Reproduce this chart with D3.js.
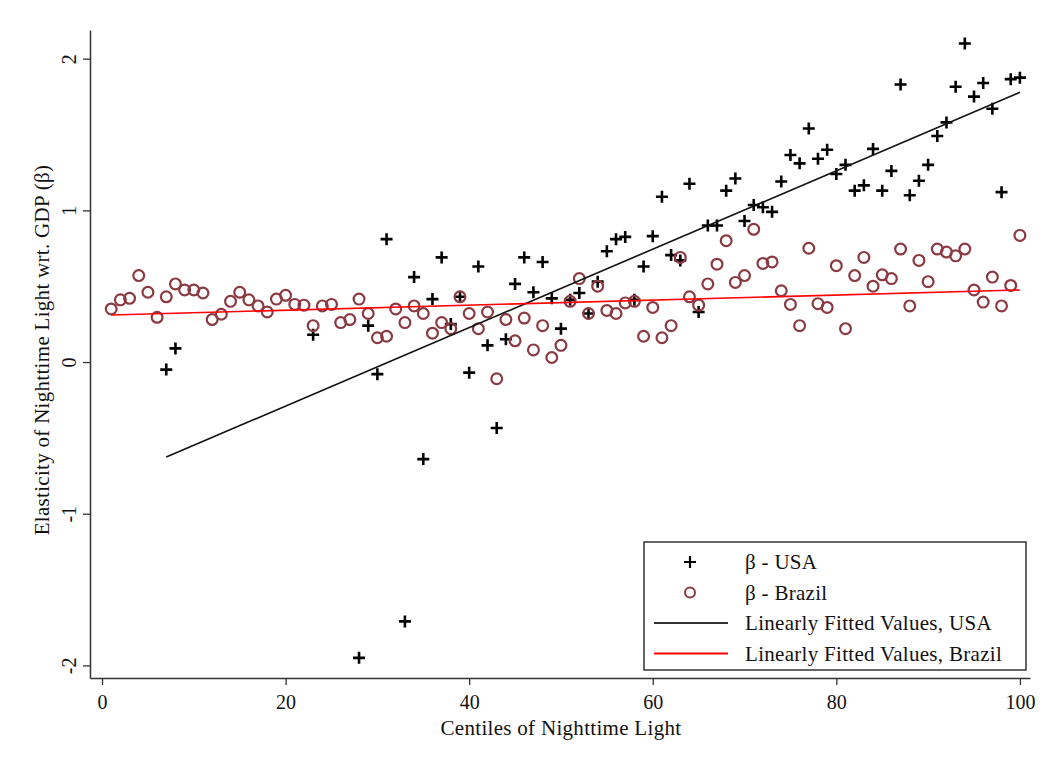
<!DOCTYPE html>
<html lang="en">
  <head>
    <meta charset="utf-8">
    <title>Elasticity of Nighttime Light</title>
    <style>
      body { margin: 0; background: #fff; }
      text { font-family: 'Liberation Serif', 'DejaVu Serif', serif; fill: #111; }
    </style>
  </head>
  <body>
    <svg width="1054" height="769"></svg>
    <script src="https://cdn.jsdelivr.net/npm/d3@7/dist/d3.min.js"></script>
    <script>
      // centiles for each series
      const usa_centiles = [7, 8, 23, 28, 29, 30, 31, 33, 34, 35, 36, 37, 38, 39, 40, 41, 42, 43, 44, 45,
        46, 47, 48, 49, 50, 51, 52, 53, 54, 55, 56, 57, 58, 59, 60, 61, 62, 63, 64, 65,
        66, 67, 68, 69, 70, 71, 72, 73, 74, 75, 76, 77, 78, 79, 80, 81, 82, 83, 84, 85,
        86, 87, 88, 89, 90, 91, 92, 93, 94, 95, 96, 97, 98, 99, 100];
      const usa_beta = [-0.05, 0.09, 0.18, -1.95, 0.24, -0.08, 0.81, -1.71, 0.56, -0.64, 0.415, 0.69, 0.25, 0.43, -0.07, 0.63, 0.11, -0.435, 0.15, 0.515,
        0.69, 0.46, 0.66, 0.42, 0.22, 0.41, 0.455, 0.32, 0.53, 0.73, 0.81, 0.825, 0.41, 0.63, 0.83, 1.09, 0.705, 0.67, 1.175, 0.33,
        0.90, 0.90, 1.13, 1.21, 0.93, 1.035, 1.02, 0.99, 1.19, 1.365, 1.31, 1.54, 1.34, 1.40, 1.24, 1.30, 1.13, 1.165, 1.405, 1.13,
        1.26, 1.83, 1.10, 1.195, 1.30, 1.49, 1.58, 1.815, 2.10, 1.75, 1.84, 1.67, 1.12, 1.865, 1.875];

      const brazil_centiles = d3.range(1, 101);
      const brazil_beta = [0.35, 0.41, 0.42, 0.57, 0.46, 0.295, 0.43, 0.515, 0.475, 0.475,
        0.455, 0.28, 0.315, 0.40, 0.46, 0.41, 0.37, 0.33, 0.415, 0.44,
        0.38, 0.375, 0.24, 0.37, 0.38, 0.26, 0.28, 0.415, 0.32, 0.16,
        0.17, 0.35, 0.26, 0.37, 0.32, 0.19, 0.26, 0.22, 0.43, 0.32,
        0.22, 0.33, -0.11, 0.28, 0.14, 0.29, 0.08, 0.24, 0.03, 0.11,
        0.40, 0.55, 0.32, 0.50, 0.34, 0.32, 0.39, 0.40, 0.17, 0.36,
        0.16, 0.24, 0.69, 0.43, 0.375, 0.515, 0.645, 0.80, 0.525, 0.57,
        0.875, 0.65, 0.66, 0.47, 0.38, 0.24, 0.75, 0.385, 0.36, 0.635,
        0.22, 0.57, 0.69, 0.50, 0.575, 0.55, 0.745, 0.37, 0.67, 0.53,
        0.745, 0.725, 0.70, 0.745, 0.475, 0.395, 0.56, 0.37, 0.505, 0.835];

      // fitted values at the ends of each series' range
      const usa_fit_centiles = [7, 100];
      const usa_fit_values = [-0.626, 1.778];
      const brazil_fit_centiles = [1, 100];
      const brazil_fit_values = [0.31, 0.475];

      const x_ticks = [0, 20, 40, 60, 80, 100];
      const y_ticks = [-2, -1, 0, 1, 2];
      const legend_labels = ['\u03B2 - USA', '\u03B2 - Brazil', 'Linearly Fitted Values, USA', 'Linearly Fitted Values, Brazil'];

      const svg = d3.select('svg');
      const margin = {top: 30, right: 24, bottom: 91, left: 90};
      const svg_width = +svg.attr('width');
      const svg_height = +svg.attr('height');

      const x_scale = d3.scaleLinear()
        .domain([-1.31, 101.1])
        .range([margin.left, svg_width - margin.right]);
      const y_scale = d3.scaleLinear()
        .domain([-2.083, 2.189])
        .range([svg_height - margin.bottom, margin.top]);

      const usa = usa_centiles.map((c, i) => ({x: c, y: usa_beta[i]}));
      const brazil = brazil_centiles.map((c, i) => ({x: c, y: brazil_beta[i]}));
      const usa_fit = usa_fit_centiles.map((c, i) => ({x: c, y: usa_fit_values[i]}));
      const brazil_fit = brazil_fit_centiles.map((c, i) => ({x: c, y: brazil_fit_values[i]}));

      // axes
      const x_axis_g = svg.append('g')
        .attr('transform', `translate(0,${svg_height - margin.bottom})`)
        .call(d3.axisBottom(x_scale).tickValues(x_ticks).tickSize(7).tickPadding(10).tickSizeOuter(0));
      const y_axis_g = svg.append('g')
        .attr('transform', `translate(${margin.left},0)`)
        .call(d3.axisLeft(y_scale).tickValues(y_ticks).tickFormat(d => String(d))
          .tickSize(7).tickPadding(9).tickSizeOuter(0));

      [x_axis_g, y_axis_g].forEach(g => {
        g.select('.domain').attr('stroke', '#333').attr('stroke-width', 1.5);
        g.selectAll('.tick line').attr('stroke', '#333').attr('stroke-width', 1.3);
        g.selectAll('.tick text').attr('font-size', 20)
          .attr('font-family', "'Liberation Serif', serif").attr('fill', '#111');
      });
      y_axis_g.selectAll('.tick text')
        .attr('transform', 'rotate(-90, -14, 0)')
        .attr('text-anchor', 'middle')
        .attr('dy', '0')
        .attr('x', -14);

      svg.append('text')
        .attr('x', (x_scale(0) + x_scale(100)) / 2)
        .attr('y', svg_height - 34)
        .attr('text-anchor', 'middle')
        .attr('font-size', 21)
        .attr('letter-spacing', 0.3)
        .text('Centiles of Nighttime Light');
      svg.append('text')
        .attr('transform', `translate(49, 350) rotate(-90)`)
        .attr('text-anchor', 'middle')
        .attr('font-size', 21)
        .attr('letter-spacing', 0.3)
        .text('Elasticity of Nighttime Light wrt. GDP (\u03B2)');

      const plot_g = svg.append('g');

      // USA markers
      plot_g.append('g').selectAll('path')
        .data(usa).enter()
        .append('path')
        .attr('transform', d => `translate(${x_scale(d.x)},${y_scale(d.y)})`)
        .attr('d', 'M-6,0H6M0,-6V6')
        .attr('stroke', '#000')
        .attr('stroke-width', 2.6);

      // Brazil markers
      plot_g.append('g').selectAll('circle')
        .data(brazil).enter()
        .append('circle')
        .attr('cx', d => x_scale(d.x))
        .attr('cy', d => y_scale(d.y))
        .attr('r', 5.4)
        .attr('fill', 'none')
        .attr('stroke', '#8b3a42')
        .attr('stroke-width', 2.2);

      const line = d3.line().x(d => x_scale(d.x)).y(d => y_scale(d.y));
      plot_g.append('path')
        .datum(usa_fit)
        .attr('d', line)
        .attr('fill', 'none')
        .attr('stroke', '#111')
        .attr('stroke-width', 1.6);
      plot_g.append('path')
        .datum(brazil_fit)
        .attr('d', line)
        .attr('fill', 'none')
        .attr('stroke', '#ff0000')
        .attr('stroke-width', 1.6);

      // legend
      const legend = svg.append('g').attr('transform', 'translate(644,542)');
      legend.append('rect')
        .attr('width', 382).attr('height', 128)
        .attr('fill', '#fff').attr('stroke', '#333').attr('stroke-width', 1.5);
      const rows = legend.selectAll('g.row')
        .data(legend_labels).enter()
        .append('g')
        .attr('class', 'row')
        .attr('transform', (d, i) => `translate(0,${20 + i * 30.5})`);
      rows.append('text')
        .attr('x', 101)
        .attr('dy', '0.35em')
        .attr('font-size', 21)
        .attr('letter-spacing', 0.3)
        .text(d => d);
      rows.filter((d, i) => i === 0).append('path')
        .attr('d', 'M40,0H52M46,-6V6')
        .attr('stroke', '#000').attr('stroke-width', 2.2);
      rows.filter((d, i) => i === 1).append('circle')
        .attr('cx', 46).attr('r', 5)
        .attr('fill', 'none').attr('stroke', '#8b3a42').attr('stroke-width', 2);
      rows.filter((d, i) => i >= 2).append('line')
        .attr('x1', 10).attr('x2', 84)
        .attr('stroke', (d, i) => i === 0 ? '#333' : '#ff0000')
        .attr('stroke-width', 2);
    </script>
  </body>
</html>
